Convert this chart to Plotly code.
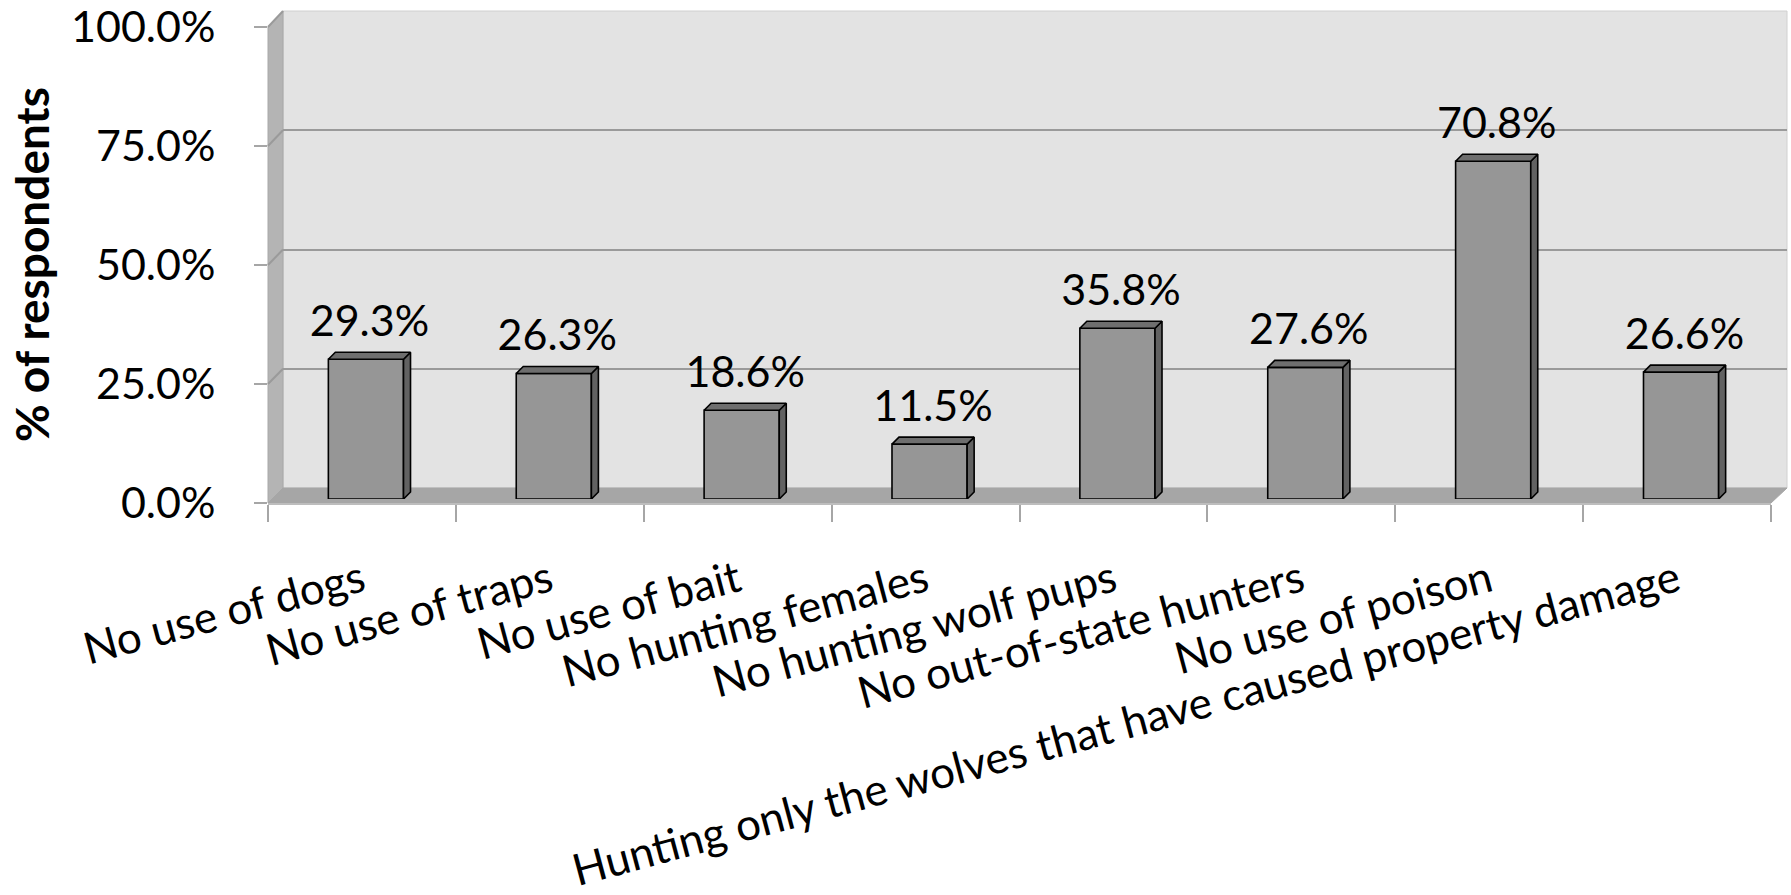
import plotly.graph_objects as go

categories = ["No use of dogs", "No use of traps", "No use of bait", "No hunting females",
              "No hunting wolf pups", "No out-of-state hunters", "No use of poison",
              "Hunting only the wolves that have caused property damage"]
values = [29.3, 26.3, 18.6, 11.5, 35.8, 27.6, 70.8, 26.6]
y_ticks = [0, 25, 50, 75, 100]

W, H = 1791, 895
FONT = "Lato"

def px(x):
    return x / W

def py(y):
    return 1 - y / H

# geometry (pixels)
FRONT_L, FRONT_R, FRONT_0, FRONT_100 = 268, 1771, 503, 27
BACK_L, BACK_R, BACK_0, BACK_100 = 283, 1787, 488, 11
BAR_SHIFT, BAR_0, BAR_100 = 4, 499, 22

n = len(categories)
xs = list(range(n))
bar_w = 0.40
cat_px = (FRONT_R - FRONT_L) / n
dx = 7 / cat_px                 # depth offset in category units
dy = 7 / ((BAR_0 - BAR_100) / 100)  # depth offset in value units

fig = go.Figure()

# back wall subplot (xy): invisible trace to create it
fig.add_trace(go.Scatter(x=[0, 1], y=[0, 0], mode="markers", marker=dict(size=0, opacity=0),
                         hoverinfo="skip", showlegend=False, xaxis="x", yaxis="y"))

# bars front face
fig.add_trace(go.Bar(x=xs, y=values, width=bar_w, marker=dict(color="#969696",
                     line=dict(color="#000000", width=1.6)), xaxis="x2", yaxis="y2",
                     hoverinfo="skip", showlegend=False))

# side faces and top faces
side_x, side_y, top_x, top_y = [], [], [], []
for x, v in zip(xs, values):
    r = x + bar_w / 2
    l = x - bar_w / 2
    side_x += [r, r + dx, r + dx, r, r, None]
    side_y += [0, dy, v + dy, v, 0, None]
    top_x += [l, l + dx, r + dx, r, l, None]
    top_y += [v, v + dy, v + dy, v, v, None]
fig.add_trace(go.Scatter(x=side_x, y=side_y, mode="lines", fill="toself", fillcolor="#626262",
                         line=dict(color="#000000", width=1.6), xaxis="x2", yaxis="y2",
                         hoverinfo="skip", showlegend=False))
fig.add_trace(go.Scatter(x=top_x, y=top_y, mode="lines", fill="toself", fillcolor="#6e6e6e",
                         line=dict(color="#000000", width=1.6), xaxis="x2", yaxis="y2",
                         hoverinfo="skip", showlegend=False))

# data labels
fig.add_trace(go.Scatter(x=[x + dx / 2 for x in xs], y=[v + dy + 1.2 for v in values], mode="text",
                         text=[f"{v:.1f}%" for v in values], textposition="top center",
                         textfont=dict(family=FONT, size=43, color="#000000"),
                         xaxis="x2", yaxis="y2", hoverinfo="skip", showlegend=False))

# front frame subplot with category labels and percent ticks
fig.add_trace(go.Scatter(x=categories, y=values, mode="markers", marker=dict(size=0, opacity=0),
                         hoverinfo="skip", showlegend=False, xaxis="x3", yaxis="y3"))

shapes = []
# back wall
shapes.append(dict(type="rect", xref="paper", yref="paper", x0=px(BACK_L), x1=px(BACK_R),
                   y0=py(BACK_0), y1=py(BACK_100), fillcolor="#e3e3e3",
                   line=dict(color="#d0d0d0", width=1), layer="below"))
# left side wall
shapes.append(dict(type="path", xref="paper", yref="paper",
                   path=f"M {px(FRONT_L)},{py(FRONT_100)} L {px(BACK_L)},{py(BACK_100)} "
                        f"L {px(BACK_L)},{py(BACK_0)} L {px(FRONT_L)},{py(FRONT_0)} Z",
                   fillcolor="#b4b4b4", line=dict(color="#a8a8a8", width=1), layer="below"))
# floor
shapes.append(dict(type="path", xref="paper", yref="paper",
                   path=f"M {px(FRONT_L)},{py(FRONT_0)} L {px(BACK_L)},{py(BACK_0)} "
                        f"L {px(BACK_R)},{py(BACK_0)} L {px(FRONT_R)},{py(FRONT_0)} Z",
                   fillcolor="#a6a6a6", line=dict(color="#a6a6a6", width=1), layer="below"))
# side-wall gridline diagonals
for t in y_ticks[1:]:
    yf = FRONT_0 - (FRONT_0 - FRONT_100) * t / 100
    yb = BACK_0 - (BACK_0 - BACK_100) * t / 100
    shapes.append(dict(type="line", xref="paper", yref="paper", x0=px(FRONT_L), y0=py(yf),
                       x1=px(BACK_L), y1=py(yb), line=dict(color="#9a9a9a", width=2), layer="below"))

fig.update_layout(
    width=W, height=H,
    margin=dict(l=0, r=0, t=0, b=0),
    paper_bgcolor="#ffffff", plot_bgcolor="rgba(0,0,0,0)",
    showlegend=False,
    shapes=shapes,
    xaxis=dict(domain=[px(BACK_L), px(BACK_R)], range=[0, 1], visible=False, fixedrange=True,
               automargin=False),
    yaxis=dict(domain=[py(BACK_0), py(BACK_100)], range=[0, 100], tickvals=y_ticks,
               showgrid=True, gridcolor="#9a9a9a", gridwidth=2, zeroline=False,
               showticklabels=False, showline=False, ticks="", anchor="x", automargin=False),
    xaxis2=dict(domain=[px(FRONT_L + BAR_SHIFT), px(FRONT_R + BAR_SHIFT)], range=[-0.5, n - 0.5],
                visible=False, anchor="y2", automargin=False),
    yaxis2=dict(domain=[py(BAR_0), py(BAR_100)], range=[0, 100], visible=False, anchor="x2",
                automargin=False),
    xaxis3=dict(domain=[px(FRONT_L), px(FRONT_R)], type="category", range=[-0.5, n - 0.5],
                anchor="y3", tickson="boundaries", ticks="outside", ticklen=17, tickwidth=2,
                tickcolor="#a6a6a6", showline=True, linecolor="#bdbdbd", linewidth=2,
                showgrid=False, tickangle=-15, ticklabelstandoff=33, automargin=False,
                tickfont=dict(family=FONT, size=44, color="#000000")),
    yaxis3=dict(domain=[py(FRONT_0), py(FRONT_100)], range=[0, 100], tickvals=y_ticks,
                ticktext=[f"{t:.1f}%" for t in y_ticks], anchor="x3", ticks="outside",
                ticklen=13, tickwidth=2, tickcolor="#a6a6a6", showgrid=False, zeroline=False,
                showline=False, ticklabelstandoff=30, automargin=False,
                tickfont=dict(family=FONT, size=43, color="#000000")),
    annotations=[dict(text="<b>% of respondents</b>", textangle=-90, xref="paper", yref="paper",
                      x=px(32), y=py(265), xanchor="center", yanchor="middle", showarrow=False,
                      font=dict(family=FONT, size=46, color="#000000"))],
)

fig.write_html("out.html", config={"displayModeBar": False},
               post_script="document.body.style.margin='0';")
